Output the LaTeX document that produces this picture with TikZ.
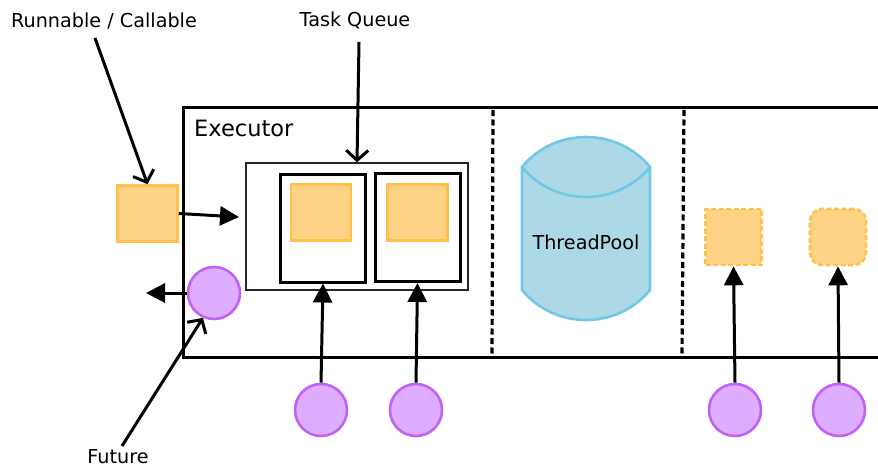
\documentclass[tikz,border=0pt]{standalone}
\usepackage{fontspec}
\setmainfont{DejaVu Sans}
\usetikzlibrary{arrows.meta}
\definecolor{orfill}{RGB}{254,211,134}
\definecolor{ordraw}{RGB}{255,192,77}
\definecolor{pufill}{RGB}{223,173,255}
\definecolor{pudraw}{RGB}{191,98,245}
\definecolor{blfill}{RGB}{173,216,230}
\definecolor{bldraw}{RGB}{114,199,230}
\tikzset{
  lbl/.style={inner sep=0pt, font=\fontsize{19.2}{21}\selectfont},
  orsq/.style={draw=ordraw, fill=orfill, line width=2.6pt, inner sep=0pt,
    minimum width=60pt, minimum height=56pt},
  orwait/.style={orsq, dashed, dash pattern=on 5pt off 2.5pt, minimum width=56pt},
  fut/.style={circle, draw=pudraw, fill=pufill, line width=2.6pt, inner sep=0pt,
    minimum size=52pt},
  worker/.style={draw, line width=3pt, inner sep=0pt, minimum width=85pt,
    minimum height=108pt},
  conn/.style={line width=3pt},
  push/.style={conn, -{Triangle[length=19pt,width=19pt]}},
  point/.style={conn, -{Straight Barb[length=10pt,width=22pt,line width=3pt]}},
  sep/.style={line width=3.2pt, dash pattern=on 6pt off 3.5pt},
}
\begin{document}
\begin{tikzpicture}[x=1pt,y=-1pt]
\useasboundingbox (0,0) rectangle (878,468);

% executor frame (open to the right)
\draw[line width=3pt] (878,108) -| (183,357) -- (878,357);
\node[lbl, font=\fontsize{22.5}{24}\selectfont, anchor=west] (exe) at (194,128) {Executor};

% task queue with two worker slots
\node[draw=black!85, line width=1.3pt, inner sep=0pt, minimum width=222pt,
  minimum height=127pt] (queue) at (357,226.5) {};
\node[worker] (w1) at (323,228) {};
\node[worker] (w2) at (417.5,227.5) {};
\node[orsq] (q1) at (321,212.5) {};
\node[orsq] (q2) at (417.5,212.5) {};

% submitted task and returned future
\node[orsq] (task) at (147.5,213.5) {};
\node[fut] (fres) at (214,293) {};
\coordinate (qin) at (239,217);
\coordinate (fout) at (146,293);
\draw[push] (task.east) -- (qin);
\draw[push] (fres.west) -- (fout);

% thread pool cylinder
\draw[draw=bldraw, fill=blfill, line width=2.6pt]
  (522,167) .. controls (555,127) and (617,127) .. (650,167)
  -- (650,290) .. controls (617,330) and (555,330) .. (522,290) -- cycle;
\draw[draw=bldraw, line width=2.6pt]
  (522,167) .. controls (555,207) and (617,207) .. (650,167);
\node[lbl] (tp) at (586,242) {ThreadPool};

% section separators
\coordinate (s1a) at (493,110); \coordinate (s1b) at (492,355);
\coordinate (s2a) at (684,110); \coordinate (s2b) at (682,355);
\draw[sep] (s1a) -- (s1b);
\draw[sep] (s2a) -- (s2b);

% pending results
\node[orwait] (d1) at (733.5,237) {};
\node[orwait, rounded corners=12pt] (d2) at (838,237) {};

% futures below the executor
\node[fut] (f1) at (321,410) {};
\node[fut] (f2) at (416,410) {};
\node[fut] (f3) at (735,410) {};
\node[fut] (f4) at (839,410) {};
\draw[push] (f1.north) -- (w1.south);
\draw[push] (f2.north) -- (w2.south);
\draw[push] (f3.north) -- (d1.south);
\draw[push] (f4.north) -- (d2.south);

% labels
\node[lbl] (lrc) at (104,21) {Runnable / Callable};
\node[lbl] (ltq) at (355,20) {Task Queue};
\node[lbl] (lfu) at (118,457) {Future};
\coordinate (lrcs) at (95,38);
\coordinate (ltqs) at (359,42);
\coordinate (lfus) at (122,446);
\draw[point] (lrcs) -- (task.north);
\draw[point] (ltqs) -- (queue.north);
\draw[point] (lfus) -- (fres.246);
\end{tikzpicture}
\end{document}
